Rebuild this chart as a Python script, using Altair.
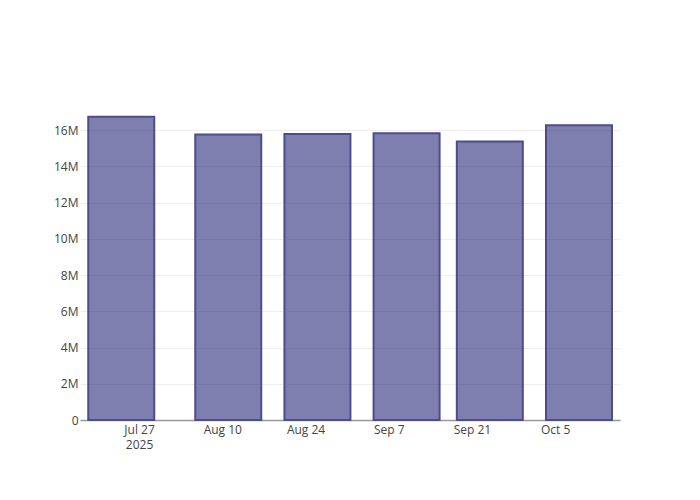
import altair as alt
import pandas as pd

dates = ["2025-07-24", "2025-08-11", "2025-08-26", "2025-09-10", "2025-09-24", "2025-10-09"]
values = [16.73e6, 15.76e6, 15.79e6, 15.82e6, 15.37e6, 16.26e6]
y_ticks = [0, 2e6, 4e6, 6e6, 8e6, 10e6, 12e6, 14e6, 16e6]
x_tick_dates = [(7, 27), (8, 10), (8, 24), (9, 7), (9, 21), (10, 5)]

df = pd.DataFrame({"date": dates, "value": values})

x_values = [alt.DateTime(year=2025, month=m, date=d, utc=True) for m, d in x_tick_dates]

chart = alt.Chart(df).mark_bar(
    width=66, fill="#2a2a7a", fillOpacity=0.6, stroke="#4c4c8e", strokeWidth=2
).encode(
    x=alt.X(
        "date:T",
        scale=alt.Scale(
            type="utc", nice=False, padding=0,
            domain=[
                alt.DateTime(year=2025, month=7, date=17, hours=1, minutes=26, utc=True),
                alt.DateTime(year=2025, month=10, date=15, hours=21, minutes=36, utc=True),
            ],
        ),
        axis=alt.Axis(
            values=x_values,
            labelExpr="utcmonth(datum.value) == 6 ? [utcFormat(datum.value, '%b %-d'), '2025'] : utcFormat(datum.value, '%b %-d')",
            title=None, grid=False, ticks=False, domain=True, domainColor="#999999", domainWidth=1.5,
            labelFont="Open Sans", labelFontSize=12, labelColor="#444444", labelPadding=4,
            labelLineHeight=15, labelFlush=False, labelOverlap=False,
        ),
    ),
    y=alt.Y(
        "value:Q",
        scale=alt.Scale(domain=[0, 17.66e6], nice=False, zero=True),
        axis=alt.Axis(
            values=y_ticks,
            labelExpr="datum.value == 0 ? '0' : format(datum.value / 1e6, 'd') + 'M'",
            title=None, ticks=False, domain=False, grid=True, gridColor="#eeeeee", gridWidth=1,
            labelFont="Open Sans", labelFontSize=12, labelColor="#444444", labelPadding=2,
        ),
    ),
).properties(
    width=540, height=320,
    autosize=alt.AutoSizeParams(type="none"),
    padding={"left": 72, "top": 92, "right": 60, "bottom": 60},
).configure_view(stroke=None)

chart.save("out.html", embed_options={"renderer": "svg", "actions": False})
